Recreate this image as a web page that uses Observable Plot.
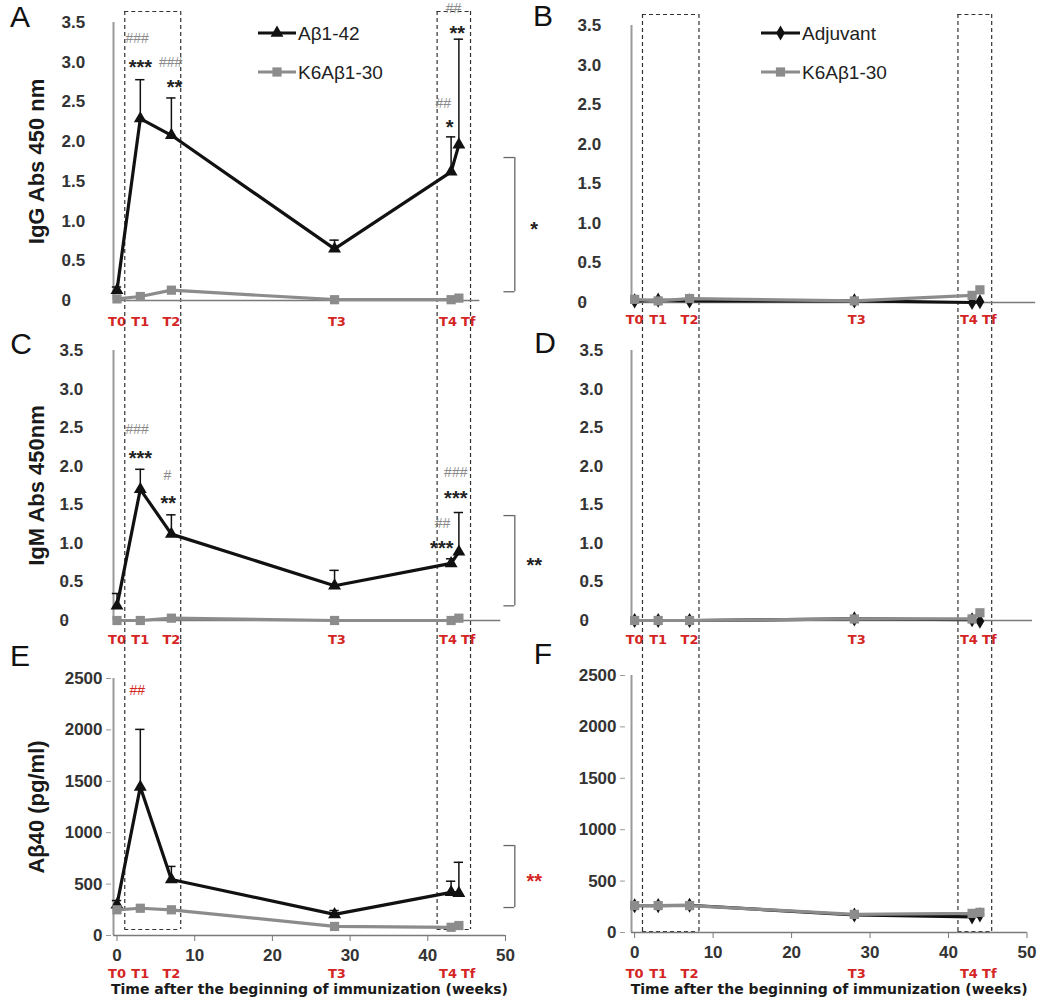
<!DOCTYPE html>
<html>
<head>
<meta charset="utf-8">
<script src="https://cdn.jsdelivr.net/npm/d3@7"></script>
<script src="https://cdn.jsdelivr.net/npm/@observablehq/plot@0.6"></script>
<style>
  body { margin: 0; background: #fff; }
  #fig { position: relative; width: 1050px; height: 1000px; overflow: hidden; font-family: "Liberation Sans", Arial, sans-serif; background:#fff; }
  .panel { position: absolute; }
  .letter { position: absolute; font-size: 30px; line-height: 30px; color: #111; transform: translateX(-50%); font-family: "Liberation Sans", Arial, sans-serif; }
</style>
</head>
<body>
<div id="fig"></div>
<script>
// ---------------- DATA ----------------
const timeLabels = ["T0", "T1", "T2", "T3", "T4", "Tf"];
const weeks = [0, 3, 7, 28, 43, 44];
const xTickValues = [0, 10, 20, 30, 40, 50];
const absTicks = [0, 0.5, 1, 1.5, 2, 2.5, 3, 3.5];
const ab40Ticks = [0, 500, 1000, 1500, 2000, 2500];

// A: IgG, Aβ1-42 vs K6Aβ1-30
const iggAb42 = [0.13, 2.29, 2.08, 0.65, 1.62, 1.96];
const iggAb42Err = [0.17, 2.78, 2.55, 0.76, 2.06, 3.29];
const iggK6A = [0.02, 0.05, 0.13, 0.01, 0.01, 0.03];
// B: IgG, Adjuvant vs K6Aβ1-30
const iggAdj = [0.02, 0.03, 0.02, 0.02, 0.0, 0.01];
const iggK6B = [0.04, 0.02, 0.05, 0.02, 0.09, 0.16];
// C: IgM, Aβ1-42 vs K6Aβ1-30
const igmAb42 = [0.19, 1.70, 1.12, 0.45, 0.74, 0.89];
const igmAb42Err = [0.35, 1.96, 1.37, 0.65, 0.80, 1.40];
const igmK6C = [0.0, 0.0, 0.03, 0.0, 0.0, 0.03];
// D: IgM, Adjuvant vs K6Aβ1-30
const igmAdj = [0.0, 0.0, 0.0, 0.02, 0.01, -0.01];
const igmK6D = [0.0, 0.0, 0.0, 0.02, 0.02, 0.10];
// E: Aβ40, Aβ1-42 vs K6Aβ1-30
const ab40Ab42 = [300, 1445, 545, 205, 420, 412];
const ab40Ab42Err = [340, 2005, 672, 243, 528, 712];
const ab40K6E = [250, 265, 250, 88, 80, 97];
// F: Aβ40, Adjuvant vs K6Aβ1-30
const ab40Adj = [260, 262, 265, 170, 152, 172];
const ab40K6F = [262, 262, 262, 176, 186, 196];

// highlighted time windows (weeks)
const boxes = [[1.0, 8.2], [41.2, 45.5]];

// significance annotations (week, level in data units)
const annotA = [
  {text: "###", w: 2.6, y: 3.30, type: "hash"},
  {text: "***", w: 3.0, y: 3.00, type: "star"},
  {text: "###", w: 6.9, y: 3.00, type: "hash"},
  {text: "**", w: 7.4, y: 2.74, type: "star"},
  {text: "##", w: 43.3, y: 3.68, type: "hash"},
  {text: "**", w: 43.8, y: 3.42, type: "star"},
  {text: "##", w: 42.0, y: 2.48, type: "hash"},
  {text: "*", w: 42.8, y: 2.24, type: "star"}
];
const annotC = [
  {text: "###", w: 2.6, y: 2.48, type: "hash"},
  {text: "***", w: 3.0, y: 2.16, type: "star"},
  {text: "#", w: 6.5, y: 1.88, type: "hash"},
  {text: "**", w: 6.6, y: 1.58, type: "star"},
  {text: "###", w: 43.6, y: 1.92, type: "hash"},
  {text: "***", w: 43.6, y: 1.65, type: "star"},
  {text: "##", w: 41.9, y: 1.26, type: "hash"},
  {text: "***", w: 41.8, y: 1.00, type: "star"}
];
const annotE = [{text: "##", w: 2.6, y: 2383, type: "hash"}];
const bracketA = {top: 1.80, bottom: 0.11, text: "*"};
const bracketC = {top: 1.36, bottom: 0.19, text: "**"};
const bracketE = {top: 875, bottom: 272, text: "**"};

const seriesNames = {ab42: "Aβ1-42", k6: "K6Aβ1-30", adj: "Adjuvant"};
const xTitle = "Time after the beginning of immunization (weeks)";

// ---------------- STYLE ----------------
const RED = "#d42424";
const STY = {
  ab42: {stroke: "#111", symbol: "triangle", r: 4.8},
  k6: {stroke: "#8c8c8c", symbol: "square", r: 5.2},
  adj: {stroke: "#111", symbol: "diamond", r: 4.6}
};
const tNudge = {T0: 0, T1: 0, T2: 0, T3: 0.3, T4: -0.4, Tf: 1.2};

function rows(values, errs) {
  return weeks.map((w, i) => ({week: w, label: timeLabels[i], value: values[i], err: errs ? errs[i] : null}));
}
function yAt(cfg, px) {
  const [d0, d1] = cfg.yd;
  const inner = cfg.height - cfg.mt - cfg.mb;
  return d1 - (px - cfg.mt) / inner * (d1 - d0);
}

const leftCol = {left: 0, width: 525, ml: 113, mr: 20, xd: [-0.45, 50], ylabelDx: -77, bx: 51.2};
const rightCol = {left: 525, width: 525, ml: 106, mr: 23.5, xd: [-0.4, 50]};
const fmtAbs = d => d === 0 ? "0" : d.toFixed(1);

const panels = [
  {...leftCol, top: 0, height: 320, mt: 22, mb: 20, yd: [0, 3.5], yticks: absTicks, tfmt: fmtAbs, tickAnchor: "start", tickDx: -43,
   xEnd: 46.7, tDy: 25, boxTop: 11, boxBottom: 320, closeTop: true, ylabel: "IgG Abs 450 nm",
   series: [{key: "ab42", v: iggAb42, e: iggAb42Err}, {key: "k6", v: iggK6A}], annots: annotA, bracket: bracketA, accent: "#222"},
  {...rightCol, top: 0, height: 320, mt: 25, mb: 18, yd: [0, 3.5], yticks: absTicks, tfmt: fmtAbs, tickAnchor: "start", tickDx: -45,
   xEnd: 51.1, tDy: 21, boxTop: 14, boxBottom: 320, closeTop: true,
   series: [{key: "adj", v: iggAdj}, {key: "k6", v: iggK6B}]},
  {...leftCol, top: 320, height: 320, mt: 30, mb: 20, yd: [0, 3.5], yticks: absTicks, tfmt: fmtAbs, tickAnchor: "start", tickDx: -45,
   xEnd: 49.4, tDy: 23, boxTop: 0, boxBottom: 320, ylabel: "IgM Abs 450nm",
   series: [{key: "ab42", v: igmAb42, e: igmAb42Err}, {key: "k6", v: igmK6C}], annots: annotC, bracket: bracketC, accent: "#222"},
  {...rightCol, top: 320, height: 320, mt: 30, mb: 20, yd: [0, 3.5], yticks: absTicks, tfmt: fmtAbs, tickAnchor: "start", tickDx: -43,
   xEnd: 50.7, tDy: 23, boxTop: 0, boxBottom: 320,
   series: [{key: "adj", v: igmAdj}, {key: "k6", v: igmK6D}]},
  {...leftCol, top: 640, height: 360, mt: 38, mb: 65, yd: [0, 2500], yticks: ab40Ticks, tfmt: d3.format("d"), tickAnchor: "end", tickDx: -2,
   xEnd: 50, tDy: 42, titleDy: 58, boxTop: 0, boxBottom: 289, closeBottom: true, ylabel: "Aβ40 (pg/ml)", xAxis: true,
   series: [{key: "ab42", v: ab40Ab42, e: ab40Ab42Err}, {key: "k6", v: ab40K6E}], annots: annotE, bracket: bracketE, accent: RED},
  {...rightCol, top: 640, height: 360, mt: 35, mb: 68, yd: [0, 2500], yticks: ab40Ticks, tfmt: d3.format("d"), tickAnchor: "end", tickDx: -6,
   xEnd: 50, tDy: 45, titleDy: 61, boxTop: 0, boxBottom: 291, closeBottom: true, xAxis: true,
   series: [{key: "adj", v: ab40Adj}, {key: "k6", v: ab40K6F}]}
];

function makePanel(cfg) {
  const marks = [];
  const dash = {stroke: "#333", strokeWidth: 1.2, strokeDasharray: "4,3"};
  const yTop = yAt(cfg, cfg.boxTop), yBot = yAt(cfg, cfg.boxBottom);
  marks.push(Plot.ruleX(boxes.flat(), {y1: yTop, y2: yBot, ...dash}));
  if (cfg.closeTop) marks.push(Plot.ruleY(boxes, {y: yTop, x1: d => d[0], x2: d => d[1], ...dash}));
  if (cfg.closeBottom) marks.push(Plot.ruleY(boxes, {y: yBot, x1: d => d[0], x2: d => d[1], ...dash}));

  // axes
  marks.push(Plot.ruleX([cfg.xd[0]], {y1: cfg.yd[0], y2: cfg.yd[1], stroke: "#9a9a9a", strokeWidth: 2}));
  marks.push(Plot.ruleY([0], {x1: cfg.xd[0], x2: cfg.xEnd, stroke: "#7a7a7a", strokeWidth: 1.5}));
  marks.push(Plot.axisY({ticks: cfg.yticks, tickSize: 5, tickFormat: cfg.tfmt, textAnchor: cfg.tickAnchor, dx: cfg.tickDx,
    stroke: "#9a9a9a", fill: "#333", label: null}));
  if (cfg.xAxis) {
    marks.push(Plot.axisX({ticks: xTickValues, tickSize: 6, tickPadding: 7, stroke: "#7a7a7a", fill: "#333", label: null}));
    marks.push(Plot.text([xTitle], {frameAnchor: "bottom", textAnchor: "middle", dy: cfg.titleDy, text: d => d,
      fontFamily: "DejaVu Sans", fontWeight: "bold", fontSize: 14, fill: "#1a1a1a"}));
  }

  // series
  for (const s of cfg.series) {
    const data = rows(s.v, s.e);
    const st = STY[s.key];
    if (s.e) {
      marks.push(Plot.ruleX(data, {x: "week", y1: "value", y2: "err", stroke: "#111", strokeWidth: 1.5}));
      marks.push(Plot.ruleY(data, {y: "err", x1: d => d.week - 0.6, x2: d => d.week + 0.6, stroke: "#111", strokeWidth: 1.5}));
    }
    marks.push(Plot.line(data, {x: "week", y: "value", stroke: st.stroke, strokeWidth: 3.2, strokeLinejoin: "round"}));
    marks.push(Plot.dot(data, {x: "week", y: "value", symbol: st.symbol, r: st.r, fill: st.stroke, stroke: "none"}));
  }

  // time labels
  const tRows = weeks.map((w, i) => ({week: w, label: timeLabels[i]}));
  marks.push(Plot.text(tRows, {x: d => d.week + tNudge[d.label], frameAnchor: "bottom", textAnchor: "middle", dy: cfg.tDy, text: "label",
    fill: RED, fontFamily: "DejaVu Sans", fontWeight: "bold", fontSize: 13}));

  // y label
  if (cfg.ylabel) {
    marks.push(Plot.text([cfg.ylabel], {frameAnchor: "left", textAnchor: "middle", rotate: -90, dx: cfg.ylabelDx, text: d => d,
      fontSize: 22, fontWeight: "bold", fill: "#1a1a1a"}));
  }

  // annotations
  if (cfg.annots) {
    const isRed = cfg.accent === RED;
    marks.push(Plot.text(cfg.annots.filter(d => d.type === "hash"), {x: "w", y: "y", text: "text",
      fill: isRed ? RED : "#8a8a8a", fontSize: 14, fontWeight: "normal"}));
    marks.push(Plot.text(cfg.annots.filter(d => d.type === "star"), {x: "w", y: "y", text: "text", dy: 5,
      fill: "#222", fontSize: 20, fontWeight: "bold"}));
  }
  if (cfg.bracket) {
    const b = cfg.bracket;
    marks.push(Plot.ruleX([cfg.bx], {y1: b.top, y2: b.bottom, stroke: "#666", strokeWidth: 1.3}));
    marks.push(Plot.ruleY([b.top, b.bottom], {x1: cfg.bx - 1.4, x2: cfg.bx, stroke: "#666", strokeWidth: 1.3}));
    marks.push(Plot.text([b], {x: cfg.bx + 2.5, y: d => (d.top + d.bottom) / 2, text: "text", dy: 5,
      fill: cfg.accent, fontSize: 20, fontWeight: "bold"}));
  }

  const svg = Plot.plot({
    width: cfg.width, height: cfg.height,
    marginLeft: cfg.ml, marginRight: cfg.mr, marginTop: cfg.mt, marginBottom: cfg.mb,
    x: {domain: cfg.xd, axis: null},
    y: {domain: cfg.yd, axis: null},
    style: {background: "transparent", overflow: "visible", fontFamily: "Liberation Sans, Arial, sans-serif", fontSize: "17px", fontWeight: "bold"},
    marks
  });
  svg.classList.add("panel");
  svg.style.left = cfg.left + "px";
  svg.style.top = cfg.top + "px";
  svg.style.position = "absolute";
  return svg;
}

const fig = document.getElementById("fig");
for (const p of panels) fig.appendChild(makePanel(p));

// legends
const ov = d3.select(fig).append("svg").attr("width", 1050).attr("height", 1000)
  .style("position", "absolute").style("left", "0px").style("top", "0px").style("pointer-events", "none");
const legendItems = [
  {x0: 258, x1: 296, y: 33, key: "ab42"}, {x0: 258, x1: 296, y: 72, key: "k6"},
  {x0: 761, x1: 800, y: 33, key: "adj"}, {x0: 761, x1: 800, y: 72, key: "k6"}
];
const symMap = {triangle: d3.symbolTriangle, square: d3.symbolSquare, diamond: d3.symbolDiamond};
for (const it of legendItems) {
  const st = STY[it.key];
  ov.append("line").attr("x1", it.x0).attr("x2", it.x1).attr("y1", it.y).attr("y2", it.y)
    .attr("stroke", st.stroke).attr("stroke-width", 3.2);
  ov.append("path").attr("d", d3.symbol(symMap[st.symbol], st.r * st.r * Math.PI)())
    .attr("transform", `translate(${(it.x0 + it.x1) / 2},${it.y})`).attr("fill", st.stroke);
  ov.append("text").attr("x", it.x1 + 2).attr("y", it.y).attr("dy", "0.35em")
    .attr("font-family", "Liberation Sans, Arial, sans-serif").attr("font-size", 19).attr("fill", "#222")
    .text(seriesNames[it.key]);
}

// panel letters
const letters = [["A", 20, 2], ["B", 543, 1], ["C", 21, 329], ["D", 545, 328], ["E", 20, 641], ["F", 543, 639]];
for (const [t, x, y] of letters) {
  const d = document.createElement("div");
  d.className = "letter"; d.textContent = t; d.style.left = x + "px"; d.style.top = y + "px";
  fig.appendChild(d);
}
</script>
</body>
</html>
